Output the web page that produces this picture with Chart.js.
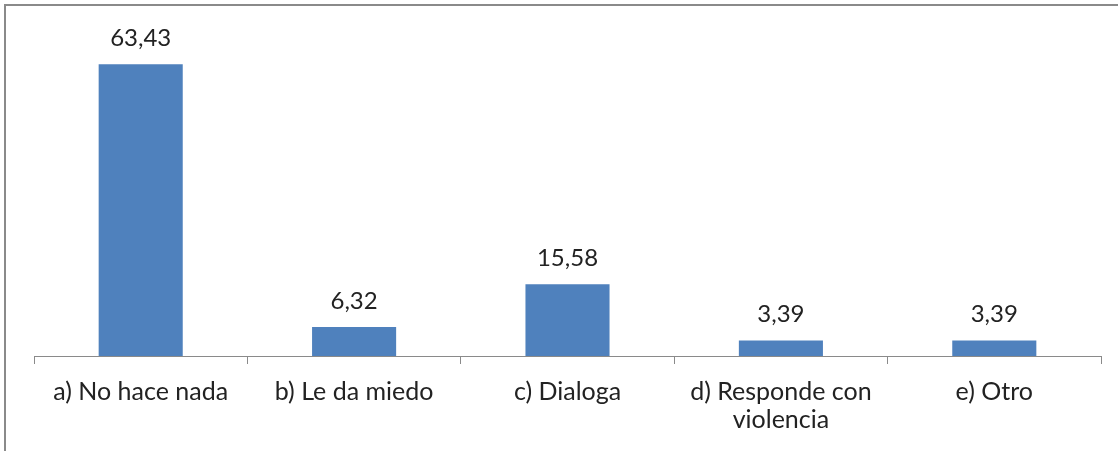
<!DOCTYPE html>
<html>
<head>
<meta charset="utf-8">
<script src="https://cdn.jsdelivr.net/npm/chart.js@4"></script>
<style>
  body { margin: 0; background: #fff; }
  #wrap { position: absolute; left: 0; top: 0; width: 1118px; height: 451px; }
  #frame {
    position: absolute; left: 4px; top: 4px; right: 0; bottom: 0;
    border-top: 2px solid #8a8a8a; border-left: 2px solid #8a8a8a;
  }
</style>
</head>
<body>
<div id="wrap">
  <div id="frame"></div>
  <canvas id="barChart" width="1118" height="451"></canvas>
</div>
<script>
const categories = [
  "a) No hace nada",
  "b) Le da miedo",
  "c) Dialoga",
  ["d) Responde con", "violencia"],
  "e) Otro"
];
const values = [63.43, 6.32, 15.58, 3.39, 3.39];

const FONT = "Lato, 'Open Sans', sans-serif";

// draw the value above each bar, with a decimal comma
const valueLabels = {
  id: "valueLabels",
  afterDatasetsDraw(chart) {
    const ctx = chart.ctx;
    const meta = chart.getDatasetMeta(0);
    ctx.save();
    ctx.font = "24px " + FONT;
    ctx.fillStyle = "#222";
    ctx.textAlign = "center";
    ctx.textBaseline = "middle";
    meta.data.forEach((bar, i) => {
      ctx.fillText(values[i].toFixed(2).replace(".", ","), bar.x, bar.y - 26);
    });
    ctx.restore();
  },
};

new Chart(document.getElementById("barChart"), {
  type: "bar",
  data: {
    labels: categories,
    datasets: [
      {
        data: values,
        backgroundColor: "#4f81bd",
        borderWidth: 0,
        categoryPercentage: 1,
        barPercentage: 0.394,
      },
    ],
  },
  options: {
    responsive: false,
    animation: false,
    layout: { padding: { left: 34, right: 17, top: 34, bottom: 3 } },
    plugins: { legend: { display: false }, tooltip: { enabled: false } },
    scales: {
      y: { display: false, min: 0, max: 70 },
      x: {
        border: { color: "#8a8a8a", width: 1 },
        grid: {
          drawOnChartArea: false,
          drawTicks: true,
          tickLength: 8,
          color: "#8a8a8a",
        },
        ticks: {
          color: "#222",
          padding: 14,
          maxRotation: 0,
          autoSkip: false,
          font: { family: FONT, size: 25, lineHeight: 1.12 },
        },
      },
    },
  },
  plugins: [valueLabels],
});
</script>
</body>
</html>
